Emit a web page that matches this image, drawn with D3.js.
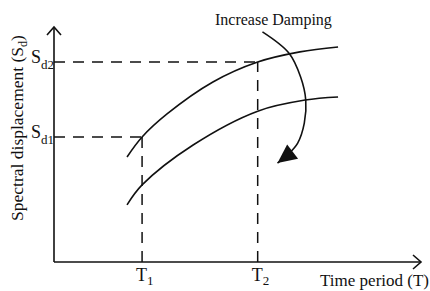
<!DOCTYPE html>
<html>
<head>
<meta charset="utf-8">
<script src="https://cdn.jsdelivr.net/npm/d3@7"></script>
<style>
  html, body { margin: 0; padding: 0; background: #fff; }
  svg text { font-family: "Liberation Serif", "Times New Roman", serif; fill: #111; }
</style>
</head>
<body>
<svg id="chart"></svg>
<script>
// values (arbitrary 0..10 units on both axes)
const periodTicks = [2.40, 5.55];
const periodLabels = ["1", "2"];
const dispTicks = [5.32, 8.51];
const dispLabels = ["d1", "d2"];

const upperT = [1.99, 2.40, 3.08, 4.33, 5.55, 6.70, 7.74];
const upperSd = [4.47, 5.32, 6.30, 7.66, 8.51, 8.94, 9.15];
const lowerT = [1.99, 2.40, 3.79, 5.55, 6.84, 7.74];
const lowerSd = [2.43, 3.28, 4.98, 6.42, 6.89, 7.02];

// "increase damping" arrow path
const arcT = [5.68, 6.40, 6.72, 6.86, 6.82, 6.64, 6.39, 6.09];
const arcSd = [9.79, 8.89, 7.87, 6.89, 5.91, 5.06, 4.60, 4.21];

const width = 430, height = 291;
const ink = "#111";

const svg = d3.select("#chart")
    .attr("width", width)
    .attr("height", height);

const x = d3.scaleLinear().domain([0, 10]).range([54, 421]);
const y = d3.scaleLinear().domain([0, 10]).range([262, 27]);

const defs = svg.append("defs");
defs.append("marker")
    .attr("id", "open-arrow")
    .attr("markerUnits", "userSpaceOnUse")
    .attr("viewBox", "-10 -8 12 16")
    .attr("refX", 0).attr("refY", 0)
    .attr("markerWidth", 12).attr("markerHeight", 16)
    .attr("orient", "auto")
    .append("path")
    .attr("d", "M-8,-7 L0,0 L-8,7")
    .style("fill", "none")
    .style("stroke", ink)
    .style("stroke-width", 1.6);

defs.append("marker")
    .attr("id", "solid-arrow")
    .attr("markerUnits", "userSpaceOnUse")
    .attr("viewBox", "-20 -10 22 20")
    .attr("refX", 0).attr("refY", 0)
    .attr("markerWidth", 22).attr("markerHeight", 20)
    .attr("orient", "auto")
    .append("path")
    .attr("d", "M-19,-9 L0,0 L-19,9 Z")
    .style("fill", ink);

// axes
svg.append("line")
    .attr("x1", x(0)).attr("y1", y(0))
    .attr("x2", x(10)).attr("y2", y(0))
    .attr("marker-end", "url(#open-arrow)")
    .style("stroke", ink).style("stroke-width", 1.6);

svg.append("line")
    .attr("x1", x(0)).attr("y1", y(0))
    .attr("x2", x(0)).attr("y2", y(10))
    .attr("marker-end", "url(#open-arrow)")
    .style("stroke", ink).style("stroke-width", 1.6);

// dashed guides
const dash = "11,8";
periodTicks.forEach((t, i) => {
    svg.append("line")
        .attr("x1", x(t)).attr("y1", y(0))
        .attr("x2", x(t)).attr("y2", y(dispTicks[i]))
        .style("stroke", ink).style("stroke-width", 1.5)
        .style("stroke-dasharray", dash);
    svg.append("line")
        .attr("x1", x(0)).attr("y1", y(dispTicks[i]))
        .attr("x2", x(t)).attr("y2", y(dispTicks[i]))
        .style("stroke", ink).style("stroke-width", 1.5)
        .style("stroke-dasharray", dash);
});

// spectrum curves
const line = d3.line()
    .x(d => x(d[0]))
    .y(d => y(d[1]))
    .curve(d3.curveCatmullRom.alpha(0.5));

[[upperT, upperSd], [lowerT, lowerSd]].forEach(([ts, sds]) => {
    svg.append("path")
        .datum(d3.zip(ts, sds))
        .attr("d", line)
        .style("fill", "none")
        .style("stroke", ink)
        .style("stroke-width", 1.6);
});

// damping arrow
svg.append("path")
    .datum(d3.zip(arcT, arcSd))
    .attr("d", line)
    .attr("marker-end", "url(#solid-arrow)")
    .style("fill", "none")
    .style("stroke", ink)
    .style("stroke-width", 1.6);

svg.append("text")
    .attr("x", 215).attr("y", 25)
    .style("font-size", "16px")
    .text("Increase Damping");

// tick labels with subscripts
periodTicks.forEach((t, i) => {
    const lbl = svg.append("text")
        .attr("x", x(t) - 6).attr("y", y(0) + 19)
        .style("font-size", "18px")
        .text("T");
    lbl.append("tspan")
        .attr("dy", 4)
        .style("font-size", "13px")
        .text(periodLabels[i]);
});

dispTicks.forEach((s, i) => {
    const lbl = svg.append("text")
        .attr("x", x(0) - 23).attr("y", y(s) + 1)
        .style("font-size", "18px")
        .text("S");
    lbl.append("tspan")
        .attr("dy", 6)
        .style("font-size", "13px")
        .text(dispLabels[i]);
});

// axis titles
svg.append("text")
    .attr("x", 429).attr("y", 286)
    .attr("text-anchor", "end")
    .style("font-size", "17px")
    .text("Time period (T)");

const yTitle = svg.append("text")
    .attr("transform", "translate(23,128) rotate(-90)")
    .attr("text-anchor", "middle")
    .style("font-size", "17.5px")
    .text("Spectral displacement (S");
yTitle.append("tspan").attr("dy", 4).style("font-size", "12px").text("d");
yTitle.append("tspan").attr("dy", -4).text(")");
</script>
</body>
</html>
